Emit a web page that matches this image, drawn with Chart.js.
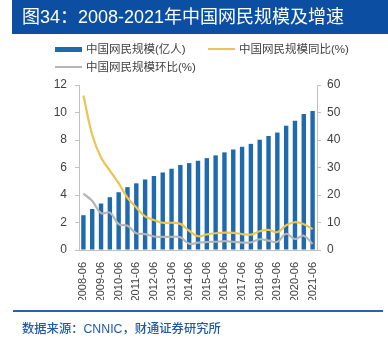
<!DOCTYPE html>
<html>
<head>
<meta charset="utf-8">
<script src="https://cdn.jsdelivr.net/npm/chart.js@4"></script>
<style>
  html, body { margin: 0; padding: 0; background: #fff; }
  body { width: 388px; height: 338px; position: relative; overflow: hidden; font-family: "Liberation Sans", "Noto Sans CJK SC", sans-serif; }
  #chart { position: absolute; left: 0; top: 0; }
  .header { position: absolute; left: 12px; top: 0; width: 376px; height: 34px; background: #0c4ea2; }
  .header span { position: absolute; left: 10px; top: 5px; color: #fff; font-size: 18px; line-height: 24px; white-space: nowrap; }
  .legend { position: absolute; font-size: 11.5px; color: #404040; white-space: nowrap; line-height: 14px; }
  .legend i { position: absolute; left: 0; width: 27px; }
  .legend b { position: absolute; left: 31px; top: -7px; font-weight: normal; }
  .footer-line { position: absolute; left: 13px; top: 310px; width: 370px; height: 1.5px; background: #2b63aa; }
  .source { position: absolute; left: 22px; top: 321px; font-size: 12.3px; line-height: 16px; color: #1f5aa6; font-weight: 500; white-space: nowrap; }
</style>
</head>
<body>
<canvas id="chart" width="388" height="338"></canvas>
<div class="header"><span>图34：2008-2021年中国网民规模及增速</span></div>
<div class="legend" style="left:55px;top:49px"><i style="top:-2.5px;height:5px;background:#1f6aad"></i><b>中国网民规模(亿人)</b></div>
<div class="legend" style="left:208px;top:49px"><i style="top:-1px;height:2px;background:#ecc452"></i><b>中国网民规模同比(%)</b></div>
<div class="legend" style="left:55px;top:67px"><i style="top:-1px;height:2px;background:#b5b5b5"></i><b>中国网民规模环比(%)</b></div>
<div class="footer-line"></div>
<div class="source">数据来源：CNNIC，财通证券研究所</div>
<script>
// half-year periods (2020-03 stands in for 2019-12)
const periods = ['2008-06','2008-12','2009-06','2009-12','2010-06','2010-12','2011-06','2011-12',
  '2012-06','2012-12','2013-06','2013-12','2014-06','2014-12','2015-06','2015-12','2016-06','2016-12',
  '2017-06','2017-12','2018-06','2018-12','2019-06','2020-03','2020-06','2020-12','2021-06'];

// netizens, 100 million people
const users = [2.53,2.98,3.38,3.84,4.20,4.57,4.85,5.13,5.38,5.64,5.91,6.18,6.32,6.49,6.68,6.88,
  7.10,7.31,7.51,7.72,8.02,8.29,8.54,9.04,9.40,9.89,10.11];

// year-on-year growth, %
const yoy = [56.2,41.9,33.6,28.9,24.3,19.0,15.5,12.2,10.9,9.9,9.9,9.5,7.0,5.0,5.7,6.1,
  6.3,6.2,5.8,5.6,6.8,7.3,6.5,9.0,10.1,9.4,7.6];

// period-on-period growth, %
const qoq = [20.5,17.8,13.4,13.6,9.4,8.8,6.1,5.8,4.9,4.8,4.8,4.6,2.3,2.7,2.9,3.0,
  3.2,3.0,2.7,2.8,3.9,3.4,3.0,5.9,4.0,5.2,2.2];

const leftTicks = [0, 12, 2];
const rightTicks = [0, 60, 10];

const axisGray = '#c0c0c0';
const labelColor = '#404040';

new Chart(document.getElementById('chart'), {
  data: {
    labels: periods,
    datasets: [
      { type: 'line', label: '中国网民规模同比(%)', data: yoy, yAxisID: 'y1',
        borderColor: '#ecc452', borderWidth: 2.2, pointRadius: 0, tension: 0.4, order: 0 },
      { type: 'line', label: '中国网民规模环比(%)', data: qoq, yAxisID: 'y1',
        borderColor: '#b5b5b5', borderWidth: 2.2, pointRadius: 0, tension: 0.4, order: 0 },
      { type: 'bar', label: '中国网民规模(亿人)', data: users, yAxisID: 'y',
        backgroundColor: '#1f6aad', barPercentage: 0.5, categoryPercentage: 1, order: 1 }
    ]
  },
  options: {
    responsive: false,
    animation: false,
    layout: { padding: { top: 85, left: 0, right: 0, bottom: 38 } },
    plugins: { legend: { display: false }, tooltip: { enabled: false } },
    scales: {
      x: {
        offset: true,
        grid: { display: false },
        border: { color: axisGray },
        ticks: {
          autoSkip: false, minRotation: 90, maxRotation: 90, padding: 4,
          color: labelColor, font: { family: 'Liberation Sans', size: 11 },
          callback: (v, i) => (i % 2 === 0 ? periods[i] : '')
        },
        afterFit: s => { s.height = 50; }
      },
      y: {
        position: 'left', min: leftTicks[0], max: leftTicks[1],
        grid: { drawOnChartArea: false, tickLength: 4, color: axisGray },
        border: { color: axisGray },
        ticks: { stepSize: leftTicks[2], padding: 8, color: labelColor, font: { family: 'Liberation Sans', size: 12 } },
        afterFit: s => { s.width = 79; }
      },
      y1: {
        position: 'right', min: rightTicks[0], max: rightTicks[1],
        grid: { drawOnChartArea: false, tickLength: 4, color: axisGray },
        border: { color: axisGray },
        ticks: { stepSize: rightTicks[2], padding: 6, color: labelColor, font: { family: 'Liberation Sans', size: 12 } },
        afterFit: s => { s.width = 71; }
      }
    }
  }
});
</script>
</body>
</html>
